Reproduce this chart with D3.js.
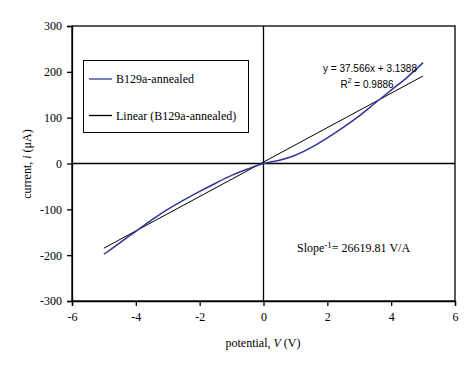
<!DOCTYPE html>
<head>
  <meta charset="utf-8">
  <title>B129a-annealed I-V</title>
  <style>
    body { margin: 0; background: #fff; }
    text { fill: #000; }
  </style>
</head>
<body>
<svg width="475" height="368"></svg>
<script src="https://d3js.org/d3.v7.min.js"></script>
<script>

// measured I-V curve
var potential = [-5, -4.5, -4, -3.5, -3, -2.5, -2, -1.5, -1, -0.5, 0,
                 0.5, 1, 1.5, 2, 2.5, 3, 3.5, 4, 4.5, 5];
var current = [-198, -173, -148, -123, -100, -80, -61, -43, -26, -12, 0,
               7, 18, 35, 56, 79, 104, 132, 160, 188, 220];

// linear trendline (from the chart's fit label)
var fitSlope = 37.566, fitIntercept = 3.1388;
var fitRange = [-5, 5];

var xTicks = [-6, -4, -2, 0, 2, 4, 6];
var yTicks = [-300, -200, -100, 0, 100, 200, 300];

var svg = d3.select("svg");
var serif = "'Liberation Serif', 'Times New Roman', serif";
var sans = "'Liberation Sans', Arial, sans-serif";

var x = d3.scaleLinear().domain([-6, 6]).range([72, 455]);
var y = d3.scaleLinear().domain([-300, 300]).range([301, 26]);

// frame
svg.append("rect")
    .attr("x", x(-6)).attr("y", y(300))
    .attr("width", x(6) - x(-6)).attr("height", y(-300) - y(300))
    .attr("fill", "none").attr("stroke", "#000").attr("stroke-width", 1.3);

// zero axes
svg.append("line")
    .attr("x1", x(-6)).attr("x2", x(6)).attr("y1", y(0)).attr("y2", y(0))
    .attr("stroke", "#000").attr("stroke-width", 1.3);
svg.append("line")
    .attr("x1", x(0)).attr("x2", x(0)).attr("y1", y(300)).attr("y2", y(-300))
    .attr("stroke", "#000").attr("stroke-width", 1.3);

var xAxis = svg.append("g")
    .attr("transform", "translate(0," + y(-300) + ")")
    .call(d3.axisBottom(x).tickValues(xTicks).tickSize(5).tickPadding(6).tickFormat(d3.format("d")));
var yAxis = svg.append("g")
    .attr("transform", "translate(" + x(-6) + ",0)")
    .call(d3.axisLeft(y).tickValues(yTicks).tickSize(5).tickPadding(5).tickFormat(d3.format("d")));

[xAxis, yAxis].forEach(function(a) {
  a.attr("font-family", serif).attr("font-size", 12);
  a.select(".domain").attr("stroke", "#000").attr("stroke-width", 1.3);
  a.selectAll(".tick line").attr("stroke", "#000").attr("stroke-width", 1.3);
  a.selectAll("text").attr("font-family", serif).attr("font-size", 12).attr("fill", "#000");
});
yAxis.selectAll("text").text(function(d) { return d < 0 ? "-" + Math.abs(d) : d; });
xAxis.selectAll("text").text(function(d) { return d < 0 ? "-" + Math.abs(d) : d; });

// trendline
svg.append("line")
    .attr("x1", x(fitRange[0])).attr("y1", y(fitSlope * fitRange[0] + fitIntercept))
    .attr("x2", x(fitRange[1])).attr("y2", y(fitSlope * fitRange[1] + fitIntercept))
    .attr("stroke", "#000").attr("stroke-width", 1);

// data curve
var line = d3.line()
    .x(function(d, i) { return x(potential[i]); })
    .y(function(d) { return y(d); })
    .curve(d3.curveMonotoneX);
svg.append("path")
    .datum(current)
    .attr("d", line)
    .attr("fill", "none")
    .attr("stroke", "#333399")
    .attr("stroke-width", 1.5);

// legend
var legend = svg.append("g");
legend.append("rect")
    .attr("x", 83.5).attr("y", 60.5).attr("width", 165).attr("height", 72)
    .attr("fill", "#fff").attr("stroke", "#000").attr("stroke-width", 1);
var legendItems = [
  { label: "B129a-annealed", color: "#333399", yy: 79 },
  { label: "Linear (B129a-annealed)", color: "#000", yy: 115.5 }
];
legendItems.forEach(function(it) {
  legend.append("line")
      .attr("x1", 89).attr("x2", 112).attr("y1", it.yy).attr("y2", it.yy)
      .attr("stroke", it.color).attr("stroke-width", 1.3);
  legend.append("text")
      .attr("x", 116).attr("y", it.yy + 4)
      .attr("font-family", serif).attr("font-size", 12)
      .text(it.label);
});

// fit equation
svg.append("text")
    .attr("x", 370).attr("y", 72).attr("text-anchor", "middle")
    .attr("font-family", sans).attr("font-size", 10)
    .text("y = " + fitSlope + "x + " + fitIntercept);
var r2 = svg.append("text")
    .attr("x", 367).attr("y", 88).attr("text-anchor", "middle")
    .attr("font-family", sans).attr("font-size", 10);
r2.append("tspan").text("R");
r2.append("tspan").attr("dy", -5).attr("font-size", 7).text("2");
r2.append("tspan").attr("dy", 5).text(" = 0.9886");

// slope note
var note = svg.append("text")
    .attr("x", 297).attr("y", 252)
    .attr("font-family", serif).attr("font-size", 12);
note.append("tspan").text("Slope");
note.append("tspan").attr("dy", -4).attr("font-size", 9).text("-1");
note.append("tspan").attr("dy", 4).text("= 26619.81 V/A");

// axis titles
var xt = svg.append("text")
    .attr("x", 263).attr("y", 347).attr("text-anchor", "middle")
    .attr("font-family", serif).attr("font-size", 12);
xt.append("tspan").text("potential, ");
xt.append("tspan").attr("font-style", "italic").text("V");
xt.append("tspan").text(" (V)");

var yt = svg.append("text")
    .attr("transform", "translate(31,164) rotate(-90)")
    .attr("text-anchor", "middle")
    .attr("font-family", serif).attr("font-size", 12);
yt.append("tspan").text("current, ");
yt.append("tspan").attr("font-style", "italic").text("i");
yt.append("tspan").text(" (\u03bcA)");

</script>
</body>
</html>
